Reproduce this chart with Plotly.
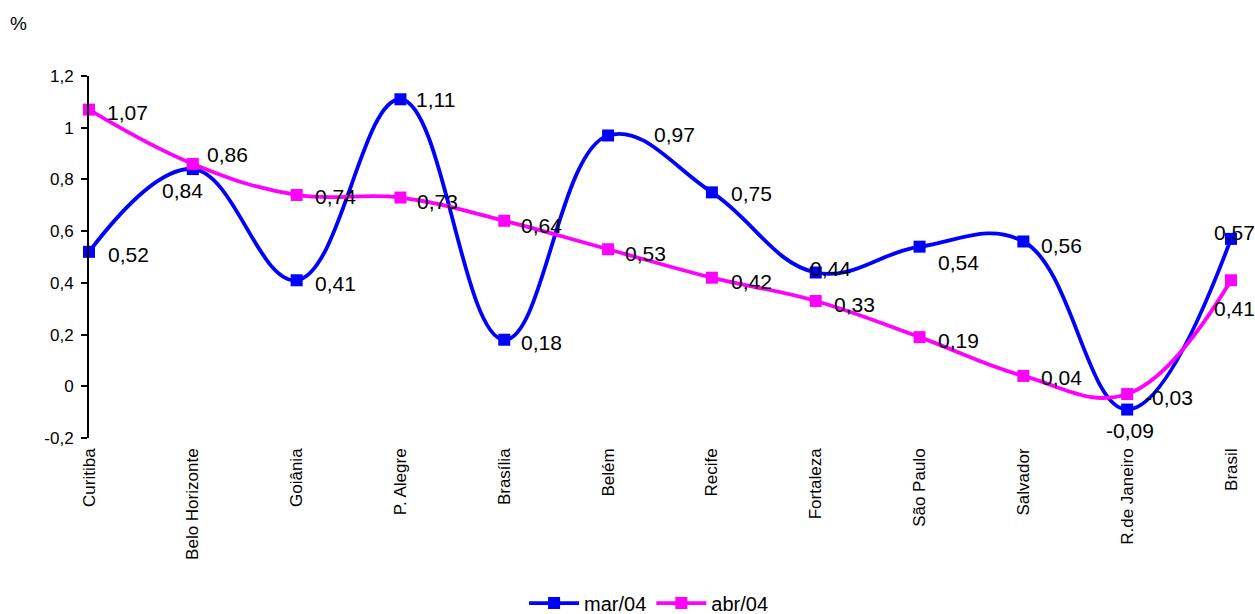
import plotly.graph_objects as go

categories = ["Curitiba", "Belo Horizonte", "Goiânia", "P. Alegre", "Brasília", "Belém",
              "Recife", "Fortaleza", "São Paulo", "Salvador", "R.de Janeiro", "Brasil"]
mar04 = [0.52, 0.84, 0.41, 1.11, 0.18, 0.97, 0.75, 0.44, 0.54, 0.56, -0.09, 0.57]
abr04 = [1.07, 0.86, 0.74, 0.73, 0.64, 0.53, 0.42, 0.33, 0.19, 0.04, -0.03, 0.41]
y_ticks = [-0.2, 0, 0.2, 0.4, 0.6, 0.8, 1.0, 1.2]
y_tick_text = ["-0,2", "0", "0,2", "0,4", "0,6", "0,8", "1", "1,2"]

# label offsets (pixels): (xanchor, xshift, yshift)
mar_off = [("left", 17, -3), ("center", -10, -21), ("left", 16, -3), ("left", 14, 0),
           ("left", 15, -3), ("left", 44, 1), ("left", 17, -1), ("left", -8, 4),
           ("left", 16, -16), ("left", 16, -4), ("center", 3, -21), ("left", -19, 6)]
abr_off = [("left", 16, -3), ("left", 12, 9), ("left", 16, -2), ("left", 15, -4),
           ("left", 15, -5), ("left", 15, -4), ("left", 17, -4), ("left", 16, -4),
           ("left", 16, -3), ("left", 16, -2), ("left", 16, -3), ("left", -19, -28)]

BLUE = "#0000FF"
MAG = "#FF00FF"
FONT = "Liberation Sans"

fig = go.Figure()
for name, vals, col in [("mar/04", mar04, BLUE), ("abr/04", abr04, MAG)]:
    fig.add_trace(go.Scatter(
        x=categories, y=vals, name=name, mode="lines+markers",
        line=dict(color=col, width=3.8, shape="spline", smoothing=1.15),
        marker=dict(symbol="square", size=12, color=col),
        cliponaxis=False,
    ))

def fmt(v):
    return f"{v:.2f}".replace(".", ",")

annotations = []
for vals, offs in [(mar04, mar_off), (abr04, abr_off)]:
    for c, v, (xa, xs, ys) in zip(categories, vals, offs):
        annotations.append(dict(
            x=c, y=v, xref="x", yref="y", text=fmt(v), showarrow=False,
            xanchor=xa, yanchor="middle", xshift=xs, yshift=ys,
            font=dict(family=FONT, size=21, color="black"),
        ))
annotations.append(dict(
    x=(18 - 89) / 1142, y=1 + (76 - 24) / 362, xref="paper", yref="paper", text="%",
    showarrow=False, xanchor="center", yanchor="middle",
    font=dict(family=FONT, size=19, color="black"),
))

fig.update_layout(
    width=1255, height=614,
    margin=dict(l=89, r=24, t=76, b=176, autoexpand=False),
    paper_bgcolor="white", plot_bgcolor="white",
    font=dict(family=FONT, color="black"),
    showlegend=True,
    legend=dict(orientation="h", x=0.49, xanchor="center", y=-0.456, yanchor="middle",
                font=dict(family=FONT, size=20, color="black"), itemwidth=50,
                traceorder="normal"),
    xaxis=dict(type="category", range=[0, len(categories) - 1], showgrid=False,
               showline=False, zeroline=False, ticks="", tickangle=-90, automargin=False,
               ticklabelstandoff=6,
               tickfont=dict(family=FONT, size=17, color="black")),
    yaxis=dict(range=[-0.2, 1.2], tickvals=y_ticks, ticktext=y_tick_text, automargin=False,
               showgrid=False, zeroline=False, showline=True, linecolor="black",
               linewidth=2, ticks="outside", ticklen=6, tickwidth=2, tickcolor="black",
               ticklabelstandoff=4,
               tickfont=dict(family=FONT, size=17, color="black")),
    yaxis2=dict(range=[-0.2, 1.2], tickvals=y_ticks, overlaying="y", side="left",
                showgrid=False, zeroline=False, showline=False, ticks="inside",
                ticklen=6, tickwidth=2, tickcolor="black", showticklabels=False),
    annotations=annotations,
)
fig.write_html("out.html")
